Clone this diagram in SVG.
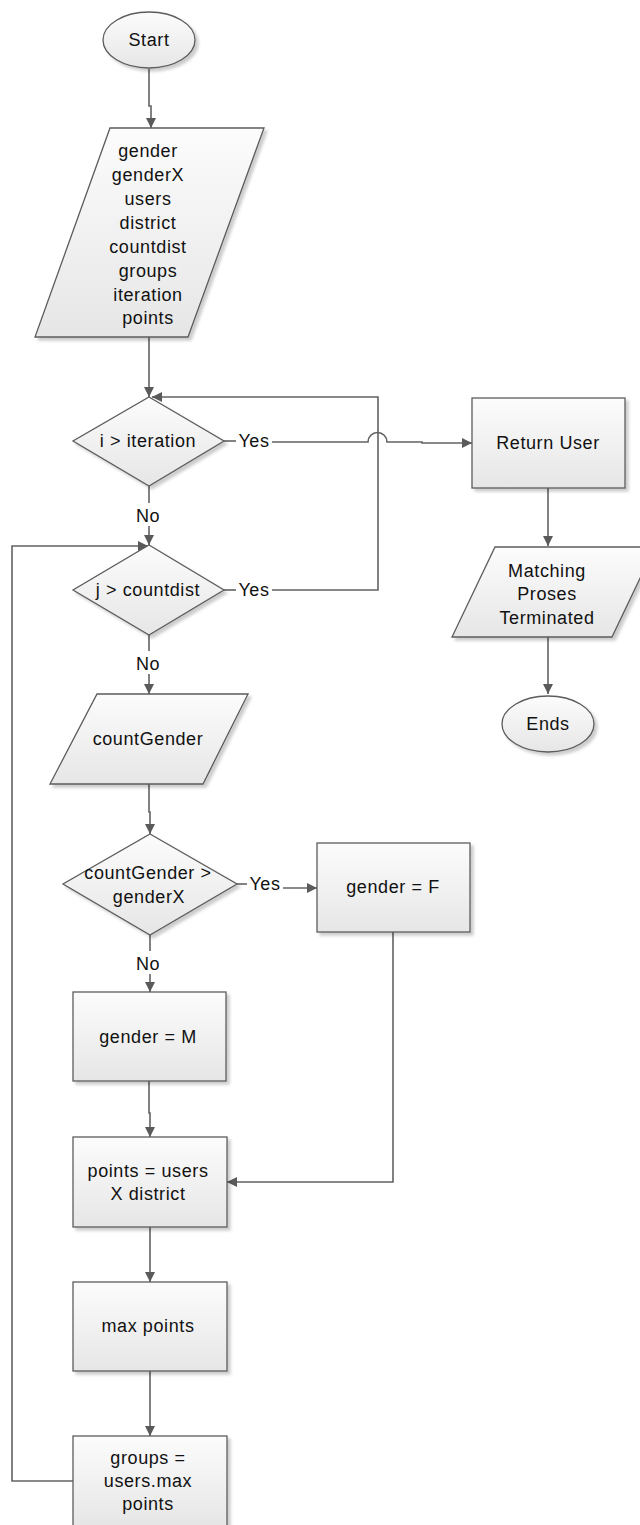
<svg xmlns="http://www.w3.org/2000/svg" width="640" height="1525" viewBox="0 0 640 1525">
<defs>
<linearGradient id="g" x1="0" y1="0" x2="0" y2="1">
<stop offset="0" stop-color="#fcfcfc"/>
<stop offset="1" stop-color="#e6e6e6"/>
</linearGradient>
<filter id="sh" x="-10%" y="-10%" width="130%" height="130%">
<feDropShadow dx="3" dy="3" stdDeviation="1.5" flood-color="#000" flood-opacity="0.2"/>
</filter>
<marker id="ar" viewBox="0 0 10 10" refX="10" refY="5" markerWidth="10" markerHeight="10" markerUnits="userSpaceOnUse" orient="auto">
<path d="M0,0 L10,5 L0,10 Z" fill="#5a5a5a"/>
</marker>
</defs>
<style>
.s{fill:url(#g);stroke:#5c5c5c;stroke-width:1.3;filter:url(#sh)}
.t{font-family:"Liberation Sans",Arial,sans-serif;font-size:18px;fill:#111;text-anchor:middle;letter-spacing:0.6px}
.c{fill:none;stroke:#636363;stroke-width:1.6}
.a{marker-end:url(#ar)}
</style>

<g id="connectors">
<path class="c a" d="M149,69 V106 H151 V128"/>
<path class="c a" d="M149,337 V397"/>
<path class="c" d="M149,486 V503"/>
<path class="c a" d="M149,526 V545"/>
<path class="c" d="M224,441 H236"/>
<path class="c a" d="M272,442 H368 A9.5,9.5 0 0 1 387,442 H422 V443 H472"/>
<path class="c" d="M224,590 H236"/>
<path class="c a" d="M272,590 H378 V397 H152"/>
<path class="c a" d="M73,1481 H12 V546 H148"/>
<path class="c" d="M149,635 V651"/>
<path class="c a" d="M149,674 V694"/>
<path class="c a" d="M149,784 V812 H150 V834"/>
<path class="c" d="M237,884 H247"/>
<path class="c a" d="M283,888 H317"/>
<path class="c" d="M150,935 V951"/>
<path class="c a" d="M150,974 V992"/>
<path class="c a" d="M149,1081 V1113 H150 V1137"/>
<path class="c a" d="M393,932 V1182 H227"/>
<path class="c a" d="M150,1227 V1282"/>
<path class="c a" d="M150,1371 V1436"/>
<path class="c a" d="M548,488 V546"/>
<path class="c a" d="M548,637 V694"/>
</g>

<g id="start">
<ellipse class="s" cx="149" cy="40" rx="46" ry="28"/>
<text class="t" x="149" y="46">Start</text>
</g>

<g id="inputs">
<polygon class="s" points="110,128 264,128 188,337 35,337"/>
<text class="t" x="148" y="157">gender</text>
<text class="t" x="148" y="181">genderX</text>
<text class="t" x="148" y="205">users</text>
<text class="t" x="148" y="229">district</text>
<text class="t" x="148" y="253">countdist</text>
<text class="t" x="148" y="277">groups</text>
<text class="t" x="148" y="301">iteration</text>
<text class="t" x="148" y="324">points</text>
</g>

<g id="dec-iteration">
<polygon class="s" points="149,397 224,441 149,486 73,441"/>
<text class="t" x="148" y="447">i &gt; iteration</text>
</g>

<g id="dec-countdist">
<polygon class="s" points="149,545 224,590 149,635 73,590"/>
<text class="t" x="148" y="596">j &gt; countdist</text>
</g>

<g id="return-user">
<rect class="s" x="472" y="398" width="153" height="90"/>
<text class="t" x="548" y="449">Return User</text>
</g>

<g id="matching">
<polygon class="s" points="495,547 655,547 612,637 452,637"/>
<text class="t" x="547" y="577">Matching</text>
<text class="t" x="547" y="600">Proses</text>
<text class="t" x="547" y="624">Terminated</text>
</g>

<g id="ends">
<ellipse class="s" cx="548" cy="724" rx="46" ry="28"/>
<text class="t" x="548" y="730">Ends</text>
</g>

<g id="count-gender">
<polygon class="s" points="97,694 248,694 203,784 50,784"/>
<text class="t" x="148" y="745">countGender</text>
</g>

<g id="dec-gender">
<polygon class="s" points="150,834 237,884 150,935 63,884"/>
<text class="t" x="148" y="879">countGender &gt;</text>
<text class="t" x="149" y="903">genderX</text>
</g>

<g id="gender-f">
<rect class="s" x="317" y="843" width="153" height="89"/>
<text class="t" x="393" y="893">gender = F</text>
</g>

<g id="gender-m">
<rect class="s" x="73" y="992" width="153" height="89"/>
<text class="t" x="148" y="1043">gender = M</text>
</g>

<g id="points">
<rect class="s" x="73" y="1137" width="154" height="90"/>
<text class="t" x="148" y="1177">points = users</text>
<text class="t" x="148" y="1200">X district</text>
</g>

<g id="max-points">
<rect class="s" x="73" y="1282" width="154" height="89"/>
<text class="t" x="148" y="1332">max points</text>
</g>

<g id="groups">
<rect class="s" x="73" y="1436" width="154" height="90"/>
<text class="t" x="148" y="1464">groups =</text>
<text class="t" x="148" y="1487">users.max</text>
<text class="t" x="148" y="1510">points</text>
</g>

<g id="labels">
<text class="t" x="254" y="447">Yes</text>
<text class="t" x="254" y="596">Yes</text>
<text class="t" x="265" y="890">Yes</text>
<text class="t" x="148" y="522">No</text>
<text class="t" x="148" y="670">No</text>
<text class="t" x="148" y="970">No</text>
</g>
</svg>
